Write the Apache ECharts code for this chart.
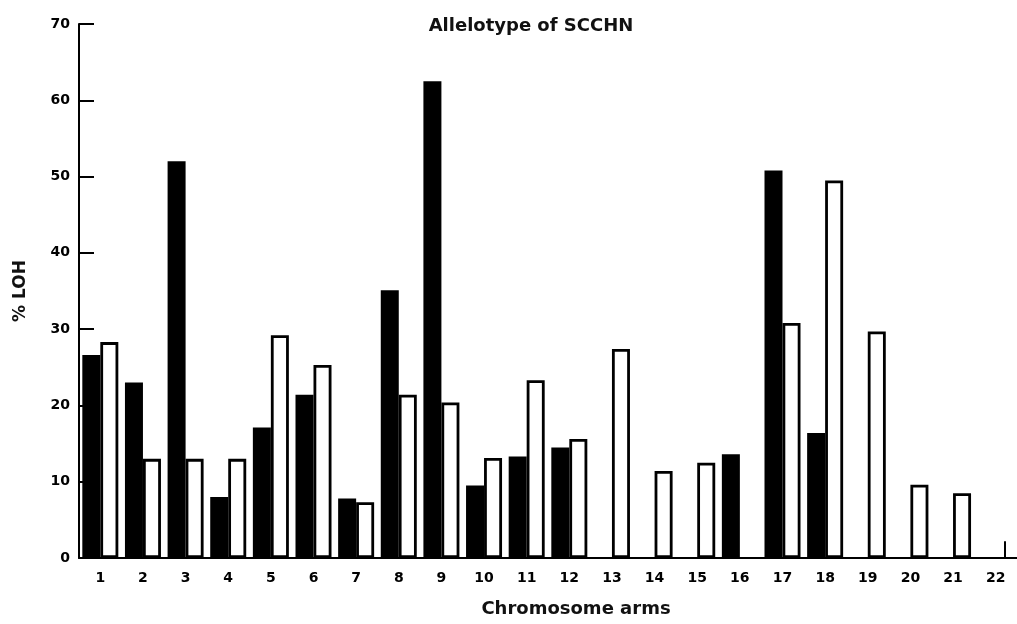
<!DOCTYPE html>
<html>
<head>
<meta charset="utf-8">
<script src="https://cdn.jsdelivr.net/npm/echarts@6/dist/echarts.min.js"></script>
<style>
html,body{margin:0;padding:0;background:#fff;}
#chart{width:1017px;height:624px;}
</style>
</head>
<body>
<div id="chart"></div>
<script>
const categories = ['1','2','3','4','5','6','7','8','9','10','11','12','13','14','15','16','17','18','19','20','21','22'];
const blackValues = [26.6, 23.0, 52.0, 8.0, 17.1, 21.4, 7.8, 35.1, 62.5, 9.5, 13.3, 14.5, null, null, null, 13.6, 50.8, 16.4, null, null, null, null];
const whiteValues = [28.3, 13.0, 13.0, 13.0, 29.2, 25.3, 7.3, 21.4, 20.4, 13.1, 23.3, 15.6, 27.4, 11.4, 12.5, null, 30.8, 49.5, 29.7, 9.6, 8.5, null];
const yTicks = [0, 10, 20, 30, 40, 50, 60, 70];
const endMarkCategory = '22';
const endMarkValue = 2.2;

const font = '"DejaVu Sans", Verdana, sans-serif';
const chart = echarts.init(document.getElementById('chart'), null, {renderer: 'canvas'});
chart.setOption({
  animation: false,
  backgroundColor: '#fff',
  title: {
    text: 'Allelotype of SCCHN',
    left: 526, top: 12, textAlign: 'center',
    textStyle: {fontFamily: font, fontSize: 18, fontWeight: 'bold', color: '#111'}
  },
  grid: {left: 79, top: 24, width: 948, bottom: 66, containLabel: false},
  xAxis: {
    type: 'category',
    data: categories,
    boundaryGap: true,
    axisLine: {show: true, lineStyle: {color: '#000', width: 2}},
    axisTick: {show: false},
    axisLabel: {fontFamily: font, fontSize: 14, fontWeight: 'bold', color: '#000', margin: 13},
    name: 'Chromosome arms',
    nameLocation: 'middle',
    nameGap: 42,
    nameTextStyle: {fontFamily: font, fontSize: 18, fontWeight: 'bold', color: '#111', padding: [0, 0, 0, 56]}
  },
  yAxis: {
    type: 'value',
    min: yTicks[0], max: yTicks[yTicks.length - 1], interval: 10,
    splitLine: {show: false},
    axisLine: {show: true, lineStyle: {color: '#000', width: 2}},
    axisTick: {show: true, inside: true, length: 15, lineStyle: {color: '#000', width: 2}},
    axisLabel: {fontFamily: font, fontSize: 14, fontWeight: 'bold', color: '#000', margin: 9},
    name: '% LOH',
    nameLocation: 'middle',
    nameGap: 50,
    nameRotate: 90,
    nameTextStyle: {fontFamily: font, fontSize: 17, fontWeight: 'bold', color: '#111'}
  },
  series: [
    {
      name: 'black', type: 'bar', data: blackValues,
      barWidth: 18, barGap: '0%',
      itemStyle: {color: '#000', borderColor: '#000', borderWidth: 0}
    },
    {
      name: 'white', type: 'bar', data: whiteValues,
      barWidth: 18, barGap: '0%',
      itemStyle: {color: '#fff', borderColor: '#000', borderWidth: 2.8},
      markLine: {
        silent: true,
        symbol: ['none', 'none'],
        label: {show: false},
        lineStyle: {color: '#000', width: 2, type: 'solid'},
        data: [[{coord: [endMarkCategory, 0]}, {coord: [endMarkCategory, endMarkValue]}]]
      }
    }
  ]
});
</script>
</body>
</html>
